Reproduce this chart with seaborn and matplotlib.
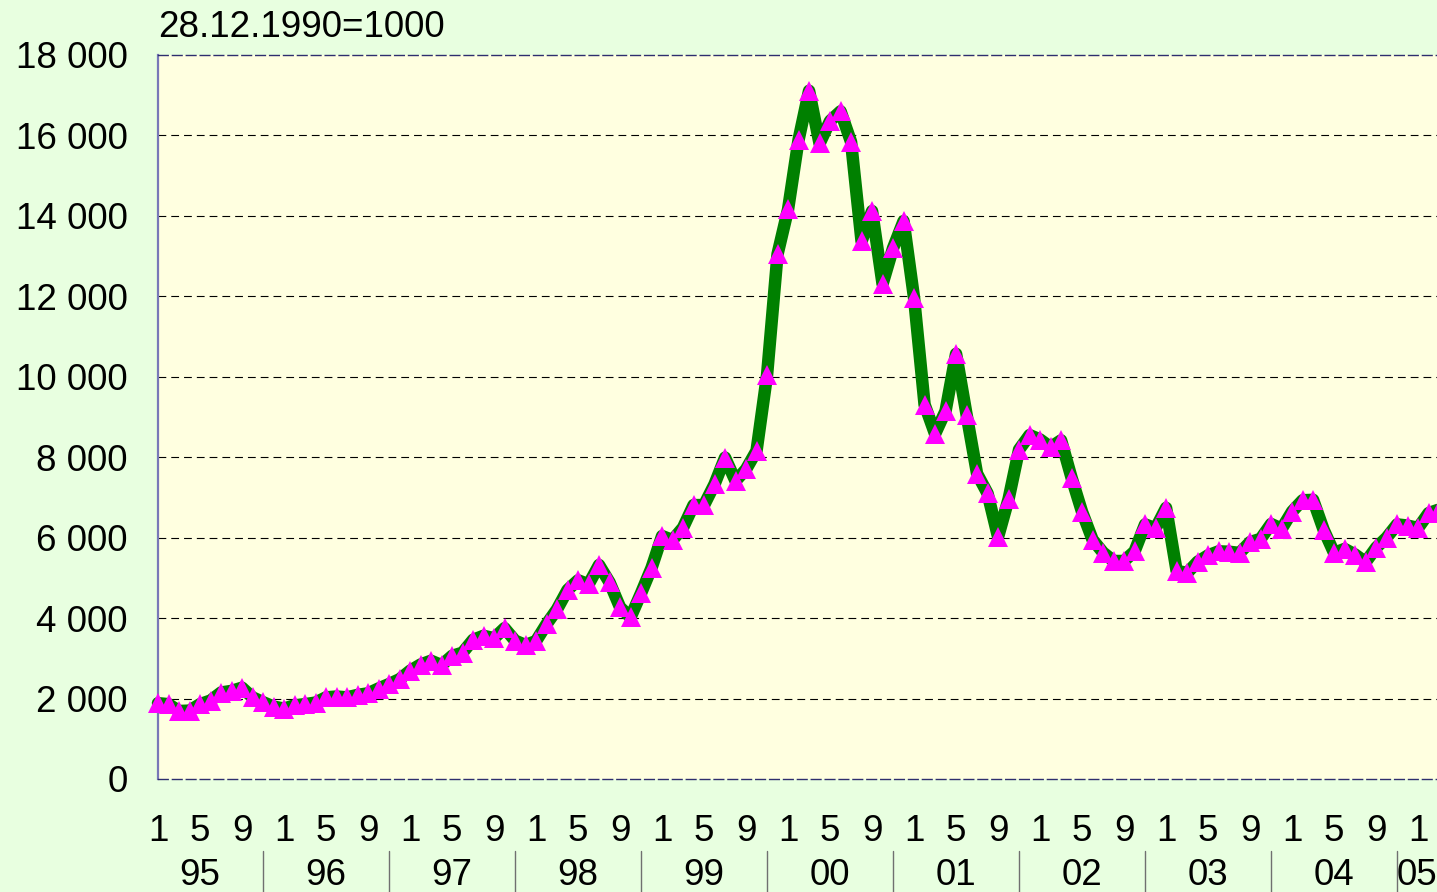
import numpy as np
import pandas as pd
import matplotlib
matplotlib.use("Agg")
import matplotlib.pyplot as plt
import seaborn as sns
from matplotlib.transforms import blended_transform_factory

# Monthly index values (28.12.1990 = 1000), January 1995 onwards
y1995 = [1885, 1860, 1690, 1700, 1860, 1950, 2150, 2190, 2270, 2030, 1910, 1800]
y1996 = [1750, 1830, 1860, 1900, 2030, 2050, 2030, 2090, 2130, 2250, 2360, 2480]
y1997 = [2690, 2845, 2940, 2830, 3060, 3140, 3460, 3560, 3500, 3750, 3440, 3330]
y1998 = [3430, 3850, 4220, 4700, 4940, 4840, 5320, 4890, 4270, 4020, 4620, 5250]
y1999 = [6040, 5940, 6250, 6810, 6810, 7330, 7990, 7410, 7700, 8160, 10040, 13050]
y2000 = [14160, 15890, 17110, 15800, 16360, 16600, 15840, 13370, 14120, 12310, 13200, 13870]
y2001 = [11960, 9310, 8580, 9150, 10570, 9060, 7590, 7100, 6020, 6960, 8190, 8550]
y2002 = [8440, 8250, 8420, 7490, 6640, 5950, 5630, 5420, 5420, 5660, 6330, 6230]
y2003 = [6740, 5180, 5120, 5400, 5560, 5660, 5650, 5620, 5890, 5970, 6340, 6220]
y2004 = [6650, 6930, 6940, 6200, 5620, 5720, 5580, 5390, 5750, 6000, 6330, 6300]
y2005 = [6240, 6610, 6700]

month_labels = ["1", "5", "9"]
year_labels = ["95", "96", "97", "98", "99", "00", "01", "02", "03", "04", "05"]
y_ticks = [0, 2000, 4000, 6000, 8000, 10000, 12000, 14000, 16000, 18000]
base_note = "28.12.1990=1000"

values = (y1995 + y1996 + y1997 + y1998 + y1999 + y2000 + y2001 + y2002
          + y2003 + y2004 + y2005)
df = pd.DataFrame({"month": np.arange(len(values)), "index": values})

FIG_BG = "#E8FFE0"
PLOT_BG = "#FFFFE0"
W, H = 1437, 892
FS = 26.5

sns.set_style("white")
plt.rcParams["font.family"] = ["Liberation Sans", "DejaVu Sans"]

fig = plt.figure(figsize=(W / 100, H / 100), dpi=100, facecolor=FIG_BG)
ax = fig.add_axes([158 / W, 1 - 779 / H, (W - 158) / W, (779 - 55) / H])
ax.set_facecolor(PLOT_BG)

sns.lineplot(data=df, x="month", y="index", ax=ax, estimator=None,
             color="#008000", linewidth=9.0, solid_joinstyle="round",
             marker="^", markersize=15, markerfacecolor="#FF00FF",
             markeredgecolor="#FF00FF", markeredgewidth=0,
             clip_on=False, zorder=3)

x_max = 121.8
ax.set_xlim(0, x_max)
ax.set_ylim(0, 18000)
ax.set_xlabel("")
ax.set_ylabel("")

# horizontal dashed grid
for yv in y_ticks[1:-1]:
    ax.axhline(yv, color="black", lw=0.8, ls=(0, (7, 4.5)), zorder=1)

# frame
for side in ("top", "bottom"):
    ax.spines[side].set_color("#2E2E6E")
    ax.spines[side].set_linestyle((0, (7, 3)))
    ax.spines[side].set_linewidth(1.0)
ax.spines["left"].set_color("#7878B8")
ax.spines["left"].set_linewidth(1.6)
ax.spines["right"].set_visible(False)

# y axis
ax.set_yticks(y_ticks)
ax.set_yticklabels([f"{v:,}".replace(",", " ") for v in y_ticks])
ax.tick_params(axis="y", length=0, pad=22, labelsize=FS, labelcolor="black")

# x axis: month ticks every four months
xt = np.arange(0, len(values), 4)
xt = xt[xt <= x_max]
ax.set_xticks(xt)
ax.set_xticklabels([month_labels[i % 3] for i in range(len(xt))])
ax.tick_params(axis="x", length=12.2, width=1.0, color="#444444",
               direction="out", pad=13, labelsize=FS, labelcolor="black")

# year labels and separators below the month labels
trans = blended_transform_factory(ax.transData, ax.transAxes)
y_base = (779 - 885) / 724
sep_top = (779 - 851) / 724
sep_bot = (779 - 892) / 724
seps = [10 + 12 * k for k in range(len(year_labels) - 1)]
for k, lab in enumerate(year_labels):
    if k < len(seps):
        cx = seps[k] - 6
    else:
        cx = (seps[-1] + x_max) / 2
    ax.text(cx, y_base, lab, transform=trans, ha="center", va="baseline",
            fontsize=FS, color="black", clip_on=False)
for s in seps:
    ax.plot([s, s], [sep_top, sep_bot], transform=trans, color="#707070",
            lw=1.0, clip_on=False)

fig.text(158 / W, 1 - 37 / H, base_note, fontsize=FS, ha="left",
         va="baseline", color="black")

fig.savefig("out.png", dpi=100, facecolor=FIG_BG)
